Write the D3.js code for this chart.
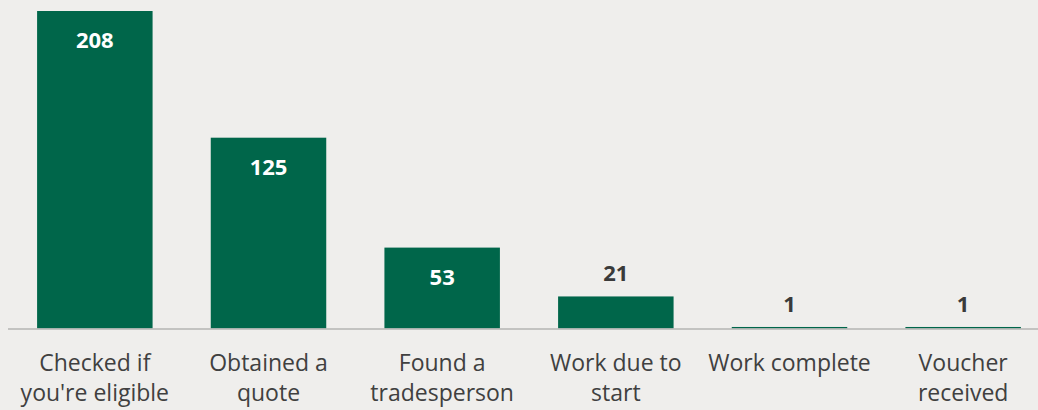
<!DOCTYPE html>
<html><head><meta charset="utf-8">
<script src="https://cdn.jsdelivr.net/npm/d3@7"></script>
<style>html,body{margin:0;padding:0;background:#efeeec;}svg{display:block;}</style>
</head><body>
<svg id="c" width="1038" height="410"></svg>
<script>
const categories = ["Checked if|you're eligible","Obtained a|quote","Found a|tradesperson","Work due to|start","Work complete","Voucher|received"];
const values = [208,125,53,21,1,1];

(function(){
const W=1038,H=410, base=328.5, plotTop=11;
const svg=d3.select("#c");
svg.append("rect").attr("width",W).attr("height",H).attr("fill","#efeeec");
const x=d3.scaleBand().domain(categories).range([8,1050]).paddingInner(0.335).paddingOuter(0.1675);
const y=d3.scaleLinear().domain([0,208]).range([base,plotTop]);

svg.selectAll("rect.bar").data(values).join("rect").attr("class","bar")
  .attr("x",(d,i)=>x(categories[i])).attr("width",x.bandwidth())
  .attr("y",d=>y(d)).attr("height",d=>base-y(d)).attr("fill","#00664a");

svg.append("line").attr("x1",8).attr("x2",W).attr("y1",base+0.5).attr("y2",base+0.5)
  .attr("stroke","#b5b5b3").attr("stroke-width",1.5);

svg.selectAll("text.val").data(values).join("text").attr("class","val")
  .attr("x",(d,i)=>x(categories[i])+x.bandwidth()/2)
  .attr("y",d=>(base-y(d))>50 ? y(d)+37 : y(d)-15)
  .attr("text-anchor","middle").attr("font-family","'Open Sans'").attr("font-weight",700)
  .attr("font-size",22).attr("fill",d=>(base-y(d))>50?"#ffffff":"#3a3a3a").text(d=>d);

const lab=svg.selectAll("text.lab").data(categories).join("text").attr("class","lab")
  .attr("text-anchor","middle").attr("font-family","'Open Sans'").attr("font-size",23).attr("fill","#404040");
lab.each(function(c){
  const t=d3.select(this);
  c.split("|").forEach((s,k)=>t.append("tspan").attr("x",x(c)+x.bandwidth()/2).attr("y",371+k*30).text(s));
});
})();
</script>
</body></html>
